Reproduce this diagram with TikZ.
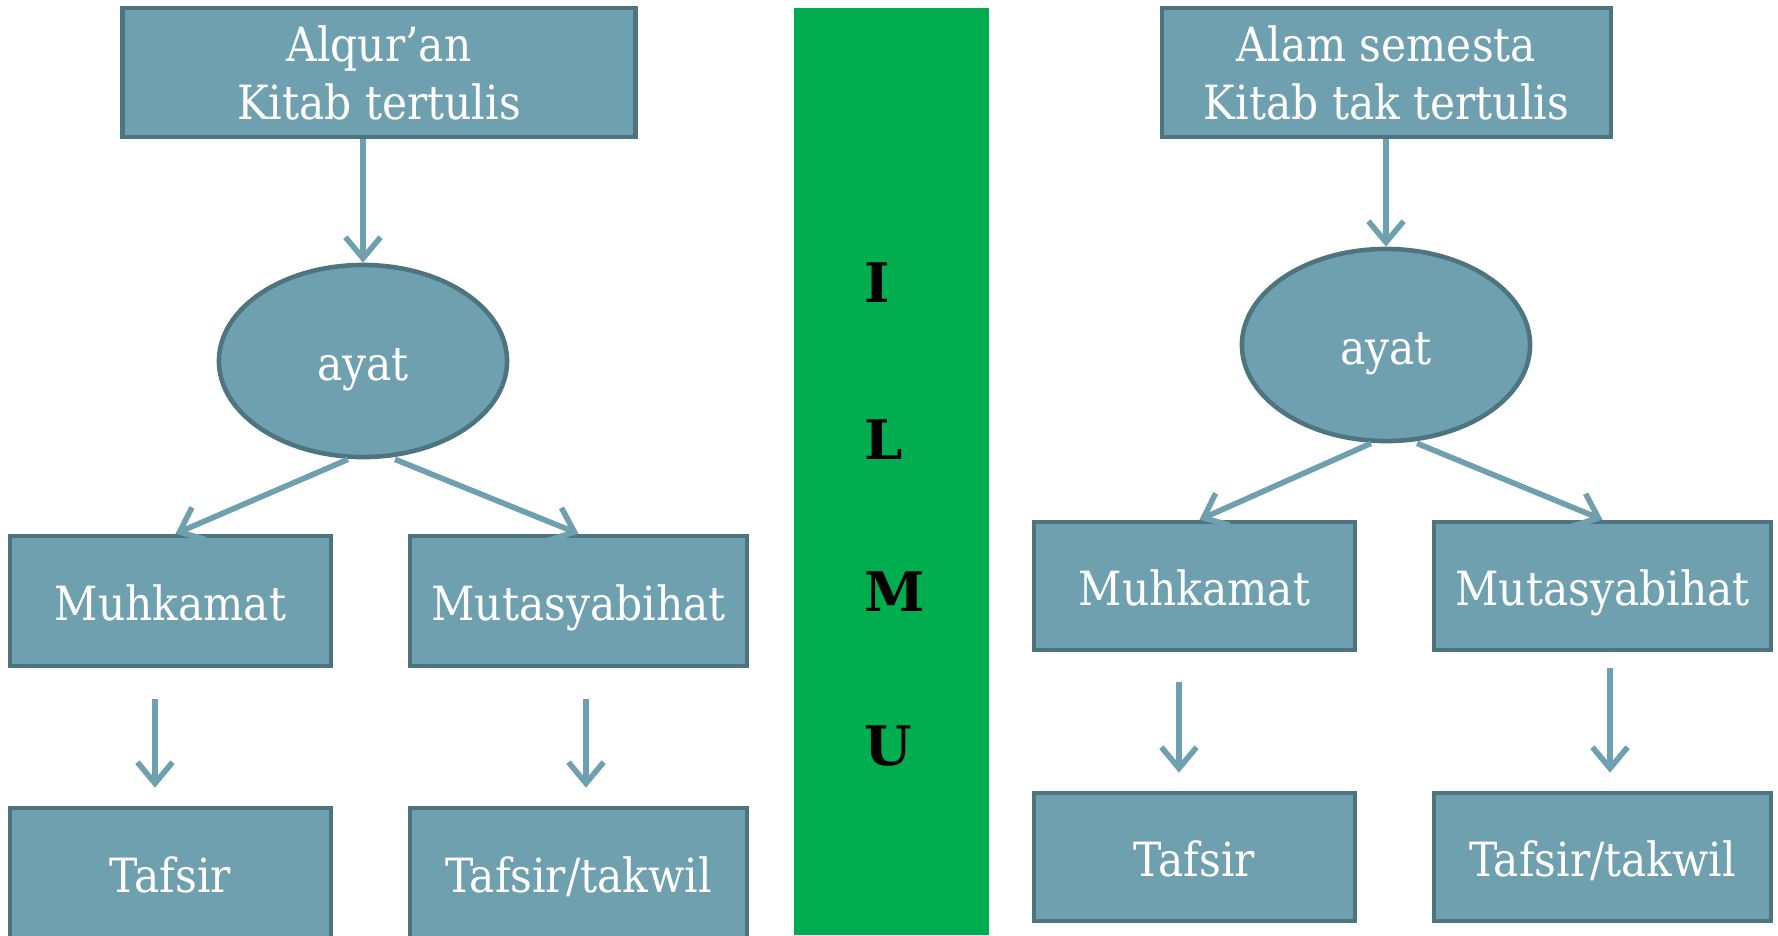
\documentclass[tikz,border=0pt]{standalone}
\usepackage{fontspec}
\setmainfont{DejaVu Serif Condensed}
\newfontfamily\hurufIlmu{DejaVu Serif}
\usetikzlibrary{shapes.geometric,arrows.meta}
\definecolor{isiKotak}{HTML}{6FA0B0}
\definecolor{tepiKotak}{HTML}{4E7480}
\definecolor{hijauIlmu}{HTML}{00AE50}
\tikzset{
	kotak/.style={draw=tepiKotak, fill=isiKotak, line width=1.3pt, text=white,
		align=center, inner sep=0pt, minimum height=1.29cm,
		font=\fontsize{13.4}{16.5}\selectfont},
	satu/.style={kotak, text height=11pt, text depth=0pt},
	bulat/.style={satu, ellipse, minimum width=2.88cm, minimum height=1.92cm},
	panah/.style={draw=isiKotak, line width=1.6pt,
		-{Straight Barb[length=6pt,width=10pt]}},
	huruf/.style={anchor=west, inner sep=0pt, text=black,
		font=\hurufIlmu\bfseries\fontsize{15.5}{20}\selectfont}
}
\begin{document}
\begin{tikzpicture}[x=0.01cm, y=-0.01cm]
		\useasboundingbox (0,0) rectangle (1778,935);
		% pita tengah
		\fill[hijauIlmu] (794,8) rectangle (989,935);
		\foreach \h/\y in {I/283,L/440,M/592,U/746}
			\node[huruf] (h\h) at (864,\y) {\h};
		% sisi kiri
		\node[kotak, minimum width=5.13cm] (quran) at (379,72.5) {Alqur’an\\Kitab tertulis};
		\node[bulat] (ayatA) at (363,361) {ayat};
		\node[satu, minimum width=3.21cm, minimum height=1.3cm] (muhA) at (170.5,601) {Muhkamat};
		\node[satu, minimum width=3.37cm, minimum height=1.3cm] (mutA) at (578.5,601) {Mutasyabihat};
		\node[satu, minimum width=3.21cm, minimum height=1.3cm] (tafA) at (170.5,873) {Tafsir};
		\node[satu, minimum width=3.37cm, minimum height=1.3cm] (takA) at (578.5,873) {Tafsir/takwil};
		\draw[panah] (ayatA.north |- quran.south) -- (ayatA.north);
		\draw[panah] ([xshift=-0.15cm]ayatA.south) -- ([xshift=0.05cm]muhA.north);
		\draw[panah] ([xshift=0.32cm]ayatA.south) -- (mutA.north);
		\draw[panah, shorten <=0.31cm, shorten >=0.18cm] ([xshift=-0.155cm]muhA.south) -- ([xshift=-0.155cm]tafA.north);
		\draw[panah, shorten <=0.31cm, shorten >=0.18cm] ([xshift=0.075cm]mutA.south) -- ([xshift=0.075cm]takA.north);
		% sisi kanan
		\node[kotak, minimum width=4.49cm] (alam) at (1386.5,72.5) {Alam semesta\\Kitab tak tertulis};
		\node[bulat] (ayatB) at (1386,345) {ayat};
		\node[satu, minimum width=3.21cm, minimum height=1.28cm] (muhB) at (1194.5,586) {Muhkamat};
		\node[satu, minimum width=3.37cm, minimum height=1.28cm] (mutB) at (1602.5,586) {Mutasyabihat};
		\node[satu, minimum width=3.21cm, minimum height=1.28cm] (tafB) at (1194.5,857) {Tafsir};
		\node[satu, minimum width=3.37cm, minimum height=1.28cm] (takB) at (1602.5,857) {Tafsir/takwil};
		\draw[panah] (ayatB.north |- alam.south) -- (ayatB.north);
		\draw[panah] ([xshift=-0.15cm]ayatB.south) -- ([xshift=0.05cm]muhB.north);
		\draw[panah] ([xshift=0.31cm]ayatB.south) -- (mutB.north);
		\draw[panah, shorten <=0.30cm, shorten >=0.18cm] ([xshift=-0.155cm]muhB.south) -- ([xshift=-0.155cm]tafB.north);
		\draw[panah, shorten <=0.16cm, shorten >=0.18cm] ([xshift=0.075cm]mutB.south) -- ([xshift=0.075cm]takB.north);
	\end{tikzpicture}
\end{document}
